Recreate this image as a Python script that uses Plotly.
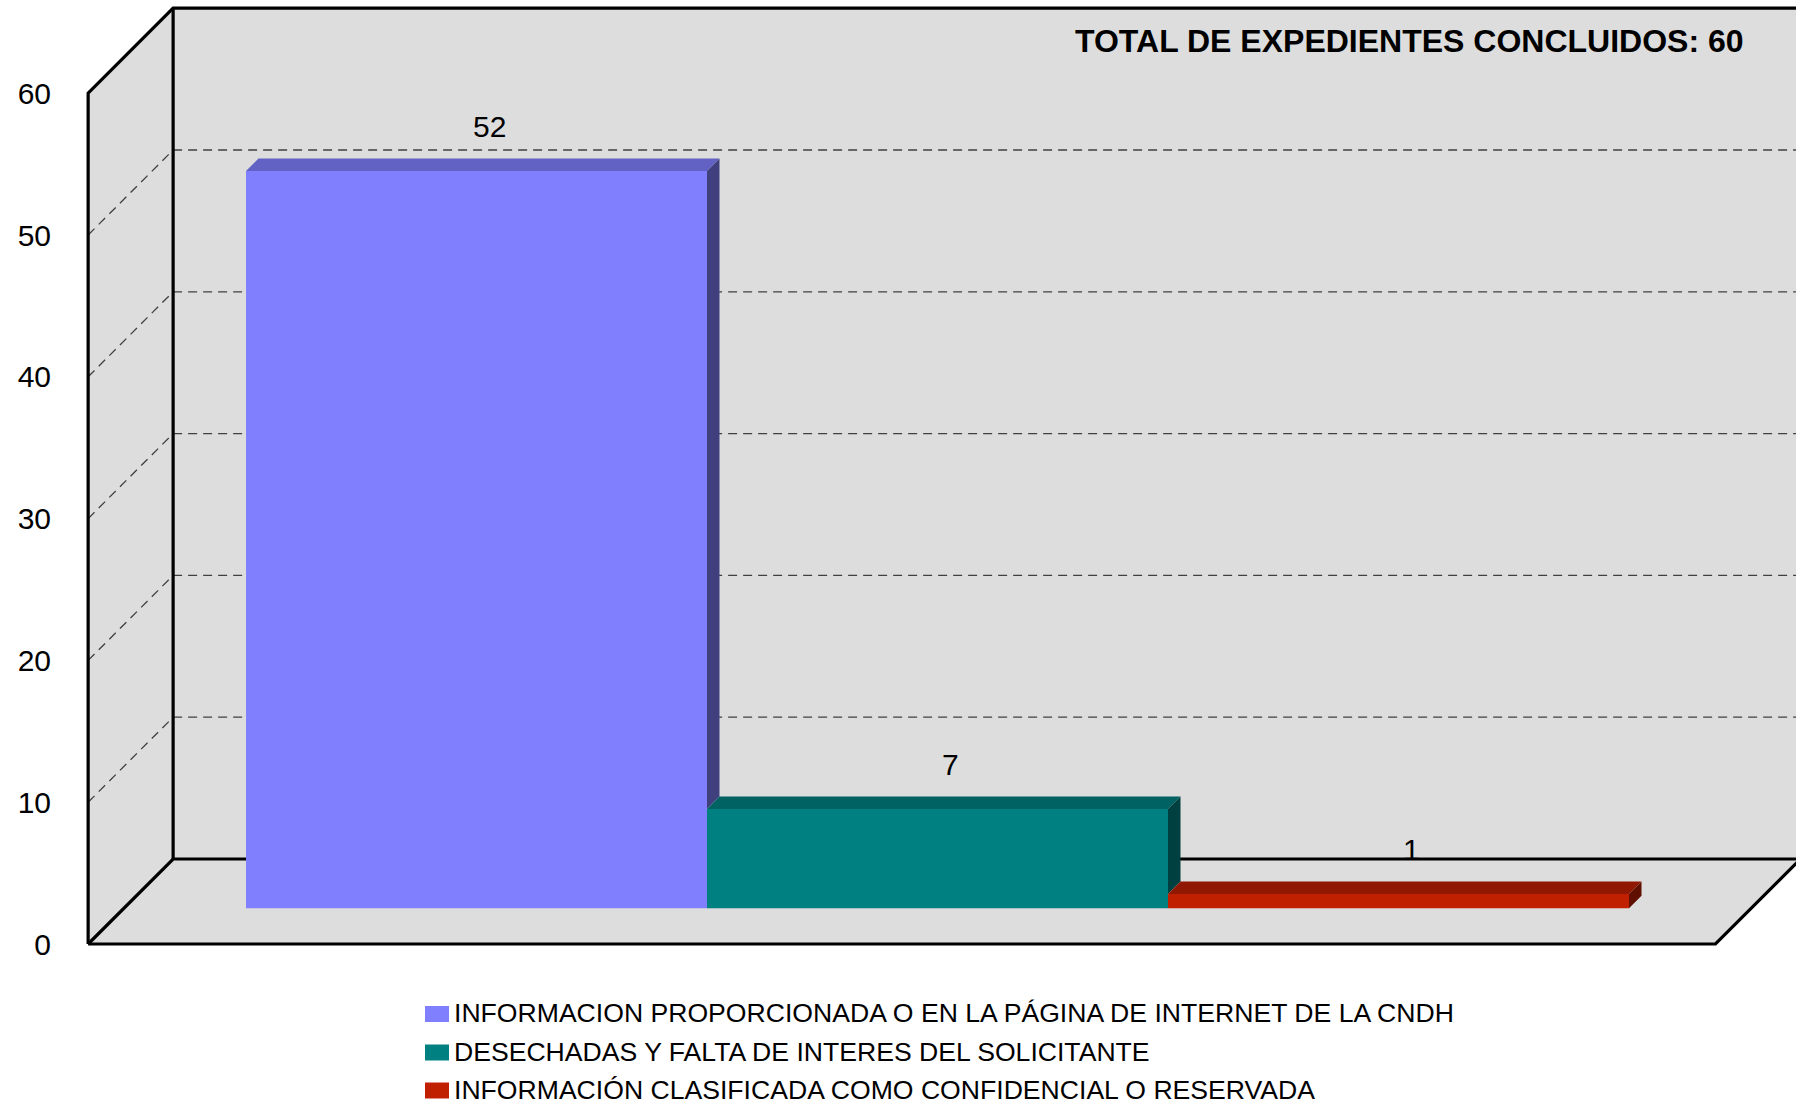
import plotly.graph_objects as go

# ---------------- data ----------------
categories = [
    "INFORMACION PROPORCIONADA O EN LA PÁGINA DE INTERNET DE LA CNDH",
    "DESECHADAS Y FALTA DE INTERES DEL SOLICITANTE",
    "INFORMACIÓN CLASIFICADA COMO CONFIDENCIAL O RESERVADA",
]
values = [52, 7, 1]
front_colors = ["#8080FF", "#008080", "#C02000"]
top_colors = ["#6262C4", "#006262", "#901800"]
side_colors = ["#40407F", "#004040", "#601000"]
tick_values = [0, 10, 20, 30, 40, 50, 60]
title_text = "TOTAL DE EXPEDIENTES CONCLUIDOS: 60"

# ---------------- geometry (layout) ----------------
W, H = 1796, 1105
ML = 60                     # left margin (px)
PX_CAT = 461.0              # px per category unit
PX_VAL = 14.18              # px per value unit
X0_PX = 476.5               # px of category 0 centre (bar front face)
Y0_PX = 908.3               # px of value 0 (bar front face)
DEPTH_PX = 85.0             # 3-D depth of the frame (px, 45 deg)
D0, D1 = 0.42, 0.567        # bar front / back depth (0 = front, 1 = back)
DXU = DEPTH_PX / PX_CAT
DYU = DEPTH_PX / PX_VAL
PAD = 0.265                 # floor padding outside the bars (category units)
VMAX = 60
FONT = "Liberation Sans, Arial, Helvetica, sans-serif"

U_L = -0.5 - PAD
U_R = (len(values) - 1) + 0.5 + PAD


def P(u, v, d):
    """project (category, value, depth) onto the 2-D axes"""
    return u + (d - D0) * DXU, v + (d - D0) * DYU


def path(pts):
    return "M " + " L ".join(f"{x:.5f},{y:.5f}" for x, y in pts) + " Z"


def line_path(pts):
    return "M " + " L ".join(f"{x:.5f},{y:.5f}" for x, y in pts)


xr = [(ML - X0_PX) / PX_CAT, (W - X0_PX) / PX_CAT]
yr = [(Y0_PX - H) / PX_VAL, Y0_PX / PX_VAL]
y2r = [yr[0] + D0 * DYU, yr[1] + D0 * DYU]

WALL = "#DDDDDD"
shapes = []
# walls and floor
back = [P(U_L, 0, 1), P(U_R, 0, 1), P(U_R, VMAX, 1), P(U_L, VMAX, 1)]
side = [P(U_L, 0, 0), P(U_L, 0, 1), P(U_L, VMAX, 1), P(U_L, VMAX, 0)]
floor = [P(U_L, 0, 0), P(U_R, 0, 0), P(U_R, 0, 1), P(U_L, 0, 1)]
for poly in (back, side, floor):
    shapes.append(dict(type="path", path=path(poly), xref="x", yref="y",
                       fillcolor=WALL, line=dict(width=0), layer="below"))
# dashed gridlines
for v in tick_values[1:-1]:
    shapes.append(dict(type="path", path=line_path([P(U_L, v, 1), P(U_R, v, 1)]),
                       xref="x", yref="y", line=dict(color="#404040", width=1.3, dash="9px,6px"),
                       layer="below"))
    shapes.append(dict(type="path", path=line_path([P(U_L, v, 0), P(U_L, v, 1)]),
                       xref="x", yref="y", line=dict(color="#404040", width=1.3, dash="9px,6px"),
                       layer="below"))
# frame edges
edges = [
    [P(U_L, 0, 0), P(U_L, VMAX, 0), P(U_L, VMAX, 1), P(U_R, VMAX, 1)],
    [P(U_L, 0, 1), P(U_L, VMAX, 1)],
    [P(U_L, 0, 0), P(U_L, 0, 1), P(U_R, 0, 1)],
    [P(U_L, 0, 0), P(U_R, 0, 0), P(U_R, 0, 1)],
]
for e in edges:
    shapes.append(dict(type="path", path=line_path(e), xref="x", yref="y",
                       line=dict(color="black", width=3.2), layer="below"))

fig = go.Figure()

# front faces as real bars
for i, (cat, v) in enumerate(zip(categories, values)):
    fx, _ = P(i, 0, D0)
    fig.add_trace(go.Bar(x=[fx], y=[v], base=[0], width=[1.0], name=cat,
                         marker=dict(color=front_colors[i], line=dict(width=0)),
                         showlegend=False, hovertemplate=f"{cat}: %{{y}}<extra></extra>"))

# top and side faces
for i, v in enumerate(values):
    top = [P(i - 0.5, v, D0), P(i + 0.5, v, D0), P(i + 0.5, v, D1), P(i - 0.5, v, D1)]
    nxt = values[i + 1] if i + 1 < len(values) else 0
    lo = min(max(nxt, 0), v)
    sd = [P(i + 0.5, lo, D0), P(i + 0.5, v, D0), P(i + 0.5, v, D1), P(i + 0.5, lo, D1)]
    for poly, col in ((top, top_colors[i]), (sd, side_colors[i])):
        xs = [p[0] for p in poly] + [poly[0][0]]
        ys = [p[1] for p in poly] + [poly[0][1]]
        fig.add_trace(go.Scatter(x=xs, y=ys, mode="lines", fill="toself", fillcolor=col,
                                 line=dict(width=0, color=col), hoverinfo="skip",
                                 showlegend=False))

annotations = []
# data labels
Dm = (D0 + D1) / 2
for i, v in enumerate(values):
    lx, ly = P(i, v, Dm)
    annotations.append(dict(x=lx, y=ly, xref="x", yref="y", text=str(v), showarrow=False,
                            xshift=7, yshift=38, yanchor="middle",
                            font=dict(family=FONT, size=30, color="black")))


def px_x(px):
    return (px - ML) / (W - ML)


def px_y(py):
    return 1 - py / H


# title
annotations.append(dict(x=px_x(1746), y=px_y(41), xref="paper", yref="paper",
                        text=f"<b>{title_text}</b>", showarrow=False,
                        xanchor="right", yanchor="middle",
                        font=dict(family=FONT, size=32, color="black")))

# legend (manual)
leg_y = [1013, 1051.5, 1089.5]
for i, cat in enumerate(categories):
    shapes.append(dict(type="rect", xref="paper", yref="paper",
                       x0=px_x(425), x1=px_x(449), y0=px_y(leg_y[i] + 9), y1=px_y(leg_y[i] - 7),
                       fillcolor=front_colors[i], line=dict(width=0)))
    annotations.append(dict(x=px_x(452), y=px_y(leg_y[i]), xref="paper", yref="paper",
                            text=cat, showarrow=False, xanchor="left", yanchor="middle",
                            font=dict(family=FONT, size=26.6, color="black")))

fig.update_layout(
    width=W, height=H,
    margin=dict(l=ML, r=0, t=0, b=0, pad=0),
    paper_bgcolor="white", plot_bgcolor="white",
    barmode="overlay",
    xaxis=dict(range=xr, visible=False, fixedrange=True),
    yaxis=dict(range=yr, visible=False, fixedrange=True),
    yaxis2=dict(range=y2r, overlaying="y", side="left", tickvals=tick_values,
                ticktext=[str(t) for t in tick_values], showgrid=False, zeroline=False,
                showline=False, ticks="", ticklabelstandoff=8,
                tickfont=dict(family=FONT, size=30, color="black"), fixedrange=True),
    shapes=shapes,
    annotations=annotations,
    showlegend=False,
)
# invisible trace bound to yaxis2 so its ticks render
fig.add_trace(go.Scatter(x=[xr[0]], y=[0], yaxis="y2", mode="markers",
                         marker=dict(opacity=0), hoverinfo="skip", showlegend=False))

fig.write_html(
    "out.html",
    config={"displayModeBar": False},
    post_script="document.body.style.margin='0';document.body.style.overflow='hidden';",
)
